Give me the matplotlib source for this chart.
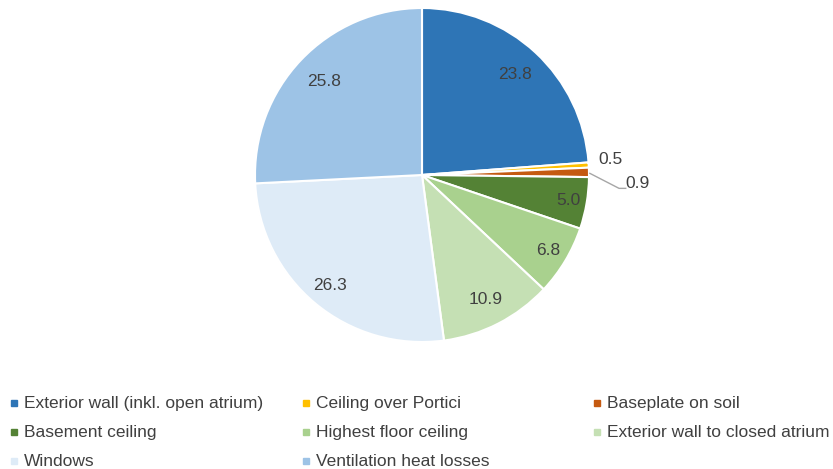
import numpy as np
import matplotlib
matplotlib.use("Agg")
import matplotlib.pyplot as plt

plt.rcParams['font.family'] = ['Liberation Sans', 'DejaVu Sans']

# data
categories = ['Exterior wall (inkl. open atrium)', 'Ceiling over Portici', 'Baseplate on soil',
              'Basement ceiling', 'Highest floor ceiling', 'Exterior wall to closed atrium',
              'Windows', 'Ventilation heat losses']
values = [23.8, 0.5, 0.9, 5.0, 6.8, 10.9, 26.3, 25.8]
colors = ['#2E75B6', '#FFC000', '#C55A11', '#548235', '#A9D18E', '#C5E0B4', '#DEEBF7', '#9DC3E6']

# where each value label sits (fraction of radius)
label_r = [0.82, 1.13, 1.29, 0.89, 0.88, 0.84, 0.86, 0.81]

txt = '#404040'
W, H = 833, 469

fig = plt.figure(figsize=(W / 100, H / 100), dpi=100)
R = 167
cx, cy = 422, 175
ax = fig.add_axes([(cx - R) / W, (H - cy - R) / H, 2 * R / W, 2 * R / H])

wedges, _ = ax.pie(values, colors=colors, startangle=90, counterclock=False,
                   wedgeprops=dict(edgecolor='white', linewidth=1.5))
ax.set_xlim(-1, 1)
ax.set_ylim(-1, 1)
ax.set_aspect('equal')

cum = np.cumsum([0] + values[:-1])
for i, v in enumerate(values):
    mid = np.deg2rad(90 - 360 * (cum[i] + v / 2) / 100)
    x, y = label_r[i] * np.cos(mid), label_r[i] * np.sin(mid)
    if i == 1:
        x, y = 1.13, 0.09
    if i == 2:
        x, y = 1.29, -0.05
        ax.plot([1.005, 1.18, 1.22], [0.01, -0.08, -0.08], color='#A6A6A6', lw=1, clip_on=False)
    ax.text(x, y, f'{v:.1f}', ha='center', va='center', fontsize=12.5, color=txt, clip_on=False)

# legend at the bottom, 3 per row (row-major like the original)
col_x = [14, 306, 597]
row_y = [403, 432, 461]
for i, (name, c) in enumerate(zip(categories, colors)):
    px, py = col_x[i % 3], row_y[i // 3]
    fig.patches.append(plt.Rectangle(((px - 3) / W, (H - py - 3) / H), 6 / W, 6 / H,
                                     transform=fig.transFigure, color=c, figure=fig))
    fig.text((px + 10) / W, (H - py) / H, name, ha='left', va='center',
             fontsize=12.5, color=txt)

fig.savefig('out.png', dpi=100)
